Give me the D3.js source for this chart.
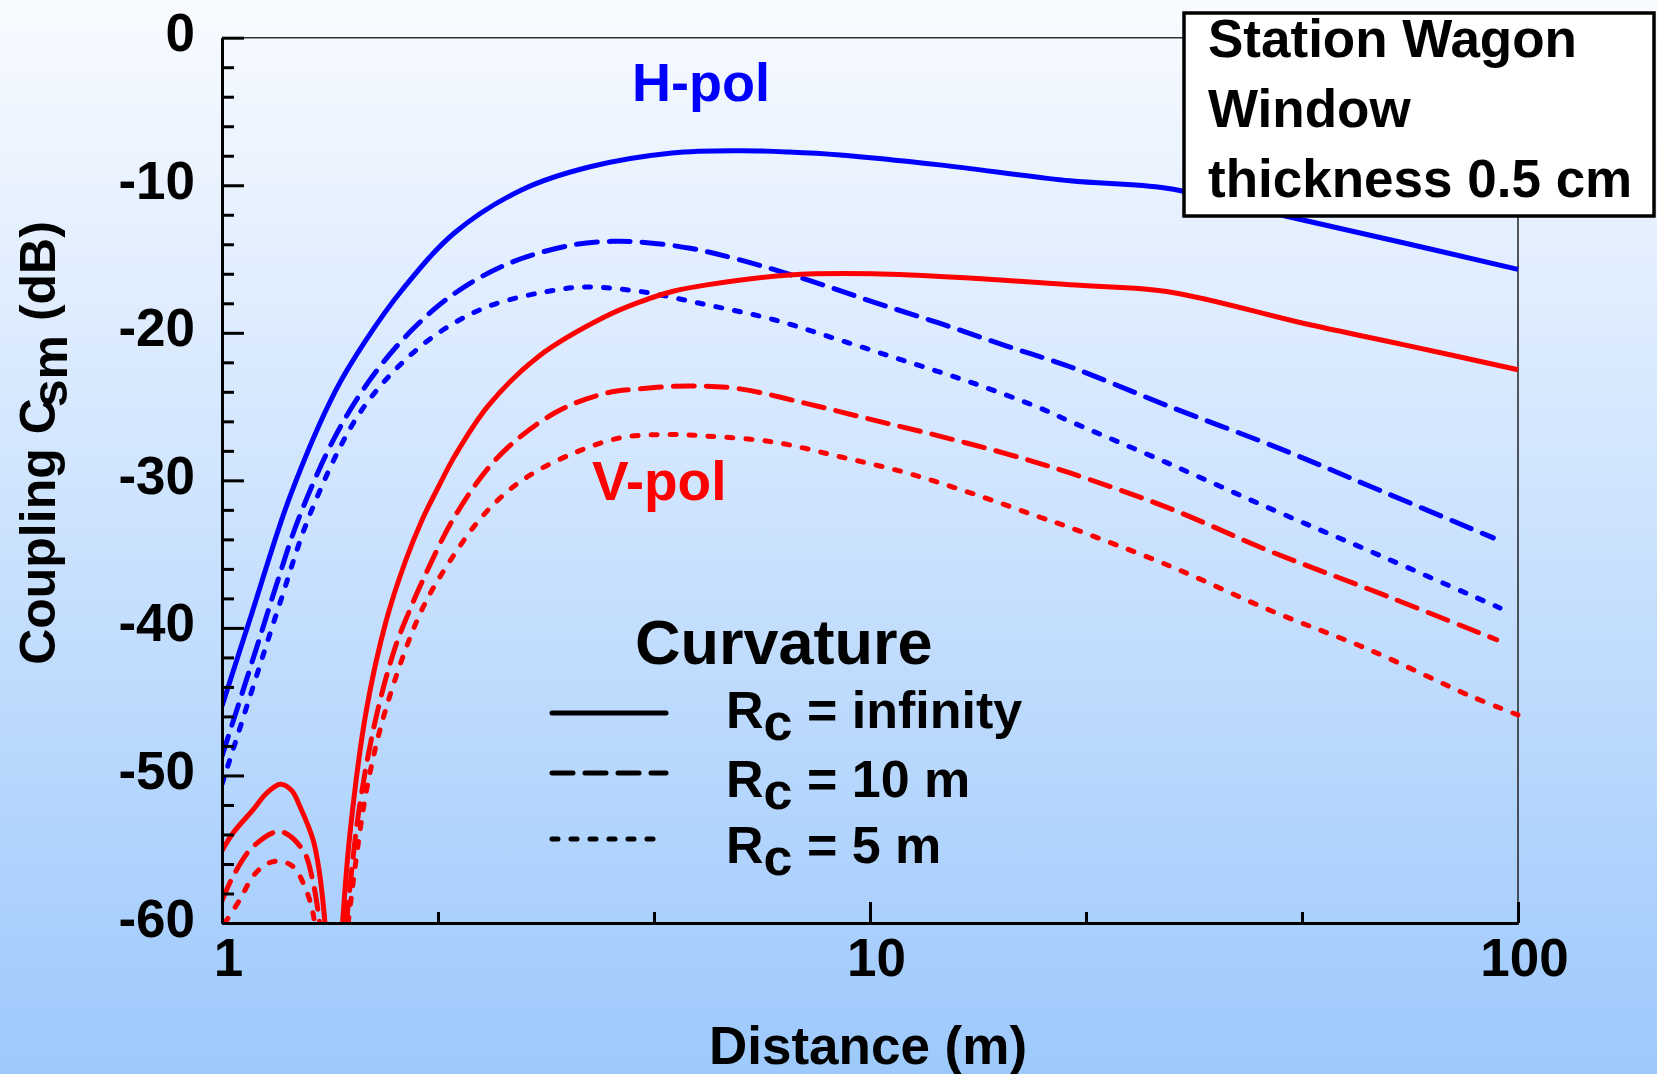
<!DOCTYPE html>
<html><head><meta charset="utf-8">
<script src="https://cdn.jsdelivr.net/npm/d3@7"></script>
<style>
html,body{margin:0;padding:0;overflow:hidden;background:#fff}
svg{display:block}
text{font-family:"Liberation Sans",Arial,Helvetica,sans-serif;font-weight:bold}
</style>
</head><body>
<svg id="chart" width="1657" height="1074"></svg>
<script>
// ---------------- data (distance in m, coupling in dB) ----------------
const hInfDist = [1,1.112,1.273,1.494,1.662,1.896,2.288,2.904,3.685,4.95,6.3,7.5,8.99,12.8,20.35,28.7,43.9,66.5,100];
const hInfDb   = [-45.3,-39.0,-31.1,-24.0,-20.6,-17.1,-13.2,-10.3,-8.76,-7.81,-7.66,-7.75,-7.95,-8.62,-9.7,-10.2,-12.1,-13.9,-15.7];

const h10Dist = [1,1.126,1.211,1.313,1.496,1.704,1.965,2.29,2.77,3.47,4.0,4.42,5.275,6.3,7.99,10.1,12.8,16.25,20.35,29.0,43.2,59.1,91.6];
const h10Db   = [-48.7,-41.6,-37.2,-32.6,-27.0,-23.0,-19.8,-17.3,-15.3,-14.05,-13.8,-13.85,-14.27,-15.06,-16.4,-17.9,-19.35,-20.9,-22.3,-25.0,-27.9,-30.4,-33.9];

const h5Dist = [1,1.126,1.229,1.367,1.606,1.851,2.16,2.58,3.27,3.68,4.42,5.6,7.09,8.99,11.4,14.4,18.3,20.35,28.7,41.4,59.1,93.8];
const h5Db   = [-50.6,-43.5,-38.3,-32.3,-25.9,-22.5,-20.0,-18.2,-17.1,-16.9,-17.2,-18.1,-19.1,-20.5,-21.95,-23.4,-25.1,-26.0,-28.8,-31.9,-34.8,-38.65];

// V-pol: two branches separated by a null (the deep null near 1.5 m)
const vInfDist = [1,1.04,1.118,1.172,1.23,1.28,1.319,1.383,1.416,1.442,null,1.535,1.576,1.67,1.79,1.918,2.035,2.16,2.29,2.58,3.08,3.905,4.42,4.95,5.6,7.52,10.1,14.4,20.35,28.7,46.6,66.5,100];
const vInfDb   = [-55.1,-53.9,-52.3,-51.2,-50.6,-51.0,-52.1,-54.4,-56.8,-60,null,-60,-53.9,-45.6,-39.6,-35.5,-32.7,-30.4,-28.3,-24.9,-21.6,-18.9,-17.9,-17.2,-16.75,-16.08,-16.0,-16.3,-16.75,-17.2,-19.35,-20.8,-22.5];

const v10Dist = [1,1.041,1.118,1.23,1.335,1.383,1.415,null,1.556,1.625,1.73,1.851,1.94,2.035,2.29,2.67,3.27,3.905,4.42,5.275,6.3,7.99,10.1,12.8,16.25,20.35,29.0,41.4,59.1,92.7];
const v10Db   = [-58.5,-56.8,-54.8,-53.8,-55.1,-57.3,-60,null,-60,-52.5,-46.0,-41.3,-39.0,-36.9,-32.4,-28.4,-25.4,-24.1,-23.8,-23.6,-23.8,-24.8,-25.9,-27.0,-28.2,-29.5,-31.9,-34.8,-37.4,-40.8];

const v5Dist = [1.01,1.066,1.118,1.172,1.229,1.289,1.335,1.375,1.39,null,1.566,1.665,1.787,2.023,2.238,2.55,2.904,3.47,4.14,4.95,5.6,7.09,8.99,11.4,14.4,18.3,20.35,29.0,41.4,59.1,84.3,100];
const v5Db   = [-60,-58.4,-56.8,-56.0,-55.8,-56.2,-57.3,-58.9,-60,null,-60,-51.4,-45.6,-39.0,-35.6,-32.2,-30.0,-28.2,-27.1,-26.9,-27.0,-27.4,-28.4,-29.5,-30.9,-32.5,-33.2,-35.8,-38.8,-41.5,-44.6,-45.9];

const xMajorTicks = [1, 10, 100];
const xMinorTicks = [Math.pow(10,1/3), Math.pow(10,2/3), Math.pow(10,4/3), Math.pow(10,5/3)];
const yMajorTicks = [0,-10,-20,-30,-40,-50,-60];
const yMinorTicks = [-2,-4,-6,-8,-12,-14,-16,-18,-22,-24,-26,-28,-32,-34,-36,-38,-42,-44,-46,-48,-52,-54,-56,-58];

const curvatureLabels = ["infinity", "10 m", "5 m"];
const infoLines = ["Station Wagon", "Window", "thickness 0.5 cm"];

// ---------------- drawing ----------------
const svg = d3.select("#chart");
const W = 1657, H = 1074;
const x = d3.scaleLog().domain([1, 100]).range([222, 1518]);
const y = d3.scaleLinear().domain([-60, 0]).range([923, 37.7]);

const defs = svg.append("defs");
const grad = defs.append("linearGradient").attr("id","bg").attr("x1",0).attr("y1",0).attr("x2",0).attr("y2",1);
grad.append("stop").attr("offset","0%").attr("stop-color","#f9fbff");
grad.append("stop").attr("offset","100%").attr("stop-color","#9dc9fc");
defs.append("clipPath").attr("id","plotclip").append("rect")
  .attr("x",222).attr("y",30).attr("width",1300).attr("height",893);

svg.append("rect").attr("width",W).attr("height",H).attr("fill","url(#bg)");

// frame (thin top/right)
svg.append("line").attr("x1",222).attr("x2",1518).attr("y1",y(0)).attr("y2",y(0))
  .attr("stroke","#333").attr("stroke-width",1.5);
svg.append("line").attr("x1",1518).attr("x2",1518).attr("y1",y(0)).attr("y2",y(-60))
  .attr("stroke","#222").attr("stroke-width",1.5);

// dash styles
const DASH = {solid:null, dashed:"21,12", dotted:"6,13"};
const LW = 5;

const series = [
  {dist:hInfDist, db:hInfDb, color:"#0000ff", style:"solid"},
  {dist:h10Dist,  db:h10Db,  color:"#0000ff", style:"dashed"},
  {dist:h5Dist,   db:h5Db,   color:"#0000ff", style:"dotted"},
  {dist:vInfDist, db:vInfDb, color:"#ff0000", style:"solid"},
  {dist:v10Dist,  db:v10Db,  color:"#ff0000", style:"dashed"},
  {dist:v5Dist,   db:v5Db,   color:"#ff0000", style:"dotted"}
];

const line = d3.line()
  .defined(p => p.v !== null)
  .x(p => x(p.d)).y(p => y(p.v))
  .curve(d3.curveCatmullRom.alpha(0.5));

const plot = svg.append("g").attr("clip-path","url(#plotclip)");
series.forEach(s => {
  const pts = s.dist.map((d,i) => ({d:d, v:s.db[i]}));
  plot.append("path").datum(pts)
    .attr("d", line)
    .attr("fill","none")
    .attr("stroke", s.color)
    .attr("stroke-width", LW)
    .attr("stroke-linecap", s.style === "solid" ? "butt" : "round")
    .attr("stroke-linejoin","round")
    .attr("stroke-dasharray", DASH[s.style]);
});

// axes
function styleAxis(g){
  g.selectAll(".domain").attr("stroke","#000").attr("stroke-width",3);
  g.selectAll(".tick line").attr("stroke","#000").attr("stroke-width",3);
  g.selectAll(".tick text").attr("fill","#000").attr("font-size",53)
    .attr("font-family","'Liberation Sans',Arial,sans-serif").attr("font-weight","bold");
}
const fmt = d => String(d);
const yMinor = svg.append("g").attr("transform","translate(222,0)")
  .call(d3.axisLeft(y).tickValues(yMinorTicks).tickSize(-12).tickSizeOuter(0).tickFormat(""));
styleAxis(yMinor);
const yAxis = svg.append("g").attr("transform","translate(222,0)")
  .call(d3.axisLeft(y).tickValues(yMajorTicks).tickSize(-22).tickSizeOuter(0).tickPadding(27).tickFormat(fmt));
styleAxis(yAxis);
yAxis.selectAll(".tick text").attr("dy", 13);

const xMinor = svg.append("g").attr("transform","translate(0,923)")
  .call(d3.axisBottom(x).tickValues(xMinorTicks).tickSize(-11).tickSizeOuter(0).tickFormat(""));
styleAxis(xMinor);
const xAxis = svg.append("g").attr("transform","translate(0,923)")
  .call(d3.axisBottom(x).tickValues(xMajorTicks).tickSize(-21).tickSizeOuter(0).tickFormat(fmt));
styleAxis(xAxis);
xAxis.selectAll(".tick text").attr("y", 53).attr("dy", 0).attr("dx", 6);

// axis titles
svg.append("text").attr("x", 868).attr("y", 1064).attr("text-anchor","middle")
  .attr("font-size",53).attr("fill","#000").text("Distance (m)");

const yt = svg.append("text").attr("transform","translate(55,443) rotate(-90)")
  .attr("text-anchor","middle").attr("font-size",50).attr("fill","#000");
yt.append("tspan").text("Coupling C");
yt.append("tspan").attr("dy",12).attr("dx",-9).text("sm");
yt.append("tspan").attr("dy",-12).text(" (dB)");

// series labels
svg.append("text").attr("x",632).attr("y",101).attr("font-size",54).attr("fill","#0000ff").text("H-pol");
svg.append("text").attr("x",592).attr("y",500).attr("font-size",55).attr("fill","#ff0000").text("V-pol");

// legend
svg.append("text").attr("x",635).attr("y",664).attr("font-size",63).attr("fill","#000").text("Curvature");
const legStyles = ["solid","dashed","dotted"];
const legLineY = [713, 773, 839];
const legTextY = [728, 797, 863];
curvatureLabels.forEach((lab,i) => {
  svg.append("line").attr("x1",552).attr("x2",666).attr("y1",legLineY[i]).attr("y2",legLineY[i])
    .attr("stroke","#000").attr("stroke-width",LW)
    .attr("stroke-linecap","round")
    .attr("stroke-dasharray", DASH[legStyles[i]]);
  const t = svg.append("text").attr("x",726).attr("y",legTextY[i]).attr("font-size",52).attr("fill","#000");
  t.append("tspan").text("R");
  t.append("tspan").attr("dy",12).text("c");
  t.append("tspan").attr("dy",-12).text(" = " + lab);
});

// info box
svg.append("rect").attr("x",1184).attr("y",13).attr("width",470).attr("height",203)
  .attr("fill","#fff").attr("stroke","#000").attr("stroke-width",3.5);
infoLines.forEach((s,i) => {
  svg.append("text").attr("x",1208).attr("y",57 + i*70).attr("font-size",53).attr("fill","#000").text(s);
});
</script>
</body></html>
